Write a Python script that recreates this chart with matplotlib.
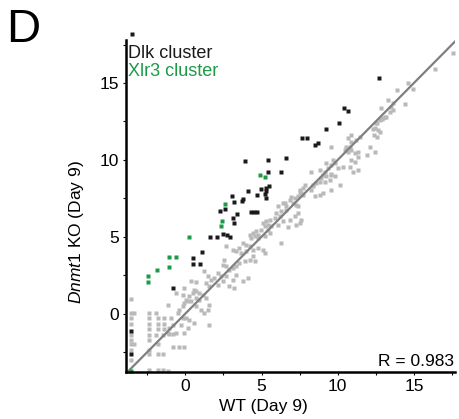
import numpy as np
import matplotlib
matplotlib.use("Agg")
import matplotlib.pyplot as plt
from matplotlib.ticker import MultipleLocator

plt.rcParams['font.family'] = ['Liberation Sans', 'DejaVu Sans']
plt.rcParams['mathtext.fontset'] = 'custom'
plt.rcParams['mathtext.rm'] = 'Liberation Sans'
plt.rcParams['mathtext.it'] = 'Liberation Sans:italic'

# all genes (WT, Dnmt1 KO)
gray_pts = [
    (-3.6, 0.95), (-3.6, 0.05), (-3.4, 0.05), (-3.6, -0.28), (-3.6, -0.65), (-3.6, -1.4), (-3.6, -1.69),
    (-3.6, -2.01), (-3.4, -2.01), (-3.6, -2.34), (-3.6, -3.0),
    (-2.41, 0.05), (-2.41, -0.28), (-2.41, -0.65), (-2.41, -0.97), (-2.41, -1.4), (-2.41, -1.69),
    (-2.41, -2.34), (-2.41, -2.66),
    (-1.93, 0.05), (-1.82, -0.28), (-1.82, -0.65), (-1.82, -0.97), (-1.93, -1.4), (-1.49, -1.4),
    (-1.82, -2.01), (-1.82, -2.66), (-1.49, -2.66),
    (-2.37, -3.64), (-1.82, -3.64), (-1.49, -3.64), (-1.16, -3.75),
    (-1.16, 0.58), (-1.38, -0.28), (-1.38, -0.65), (-1.38, -0.97), (-1.16, -1.25), (-1.05, -1.36),
    (-0.83, -1.36), (-0.6, -1.25), (-1.05, -0.93), (-0.83, -0.71), (-0.94, -0.28),
    (-0.83, -2.16), (-0.39, -2.16), (-0.07, -2.16),
    (-0.18, -0.28), (0.04, -0.28), (0.26, -0.39), (0.59, -0.61), (-0.29, -0.71), (0.15, -0.93), (-0.07, -1.25),
    (1.58, -0.71),
    (0.48, 1.35), (0.7, 1.45), (0.26, 1.12), (-0.07, 0.69), (0.15, 0.8), (-0.18, 0.48), (-0.4, 0.26),
    (-0.51, 0.05), (-0.6, 1.34), (-0.18, 1.23), (0.04, 0.91), (0.37, 0.8), (0.7, 1.02), (0.92, 0.91),
    (1.14, 1.23), (1.36, 1.02), (1.58, 0.58), (1.47, 0.26), (0.7, 0.48), (1.03, 0.26), (1.25, 0.05),
    (-0.07, 1.67), (0.37, 2.14), (0.7, 2.06), (0.59, 1.56), (0.92, 1.34),
    (1.36, 2.0), (1.25, 2.75), (1.58, 1.78), (2.13, 1.89), (2.46, 2.1), (2.89, 1.78), (3.22, 1.67),
    (3.11, 2.21), (3.33, 2.53), (3.77, 2.1), (4.1, 2.32), (2.67, 3.07), (2.67, 2.43), (2.35, 2.43),
    (2.13, 2.64), (1.91, 2.32), (1.69, 2.21), (1.47, 2.43),
    (2.56, 3.5), (2.46, 3.18), (2.89, 2.86), (3.11, 2.97), (3.33, 3.07), (3.55, 3.29), (3.88, 3.4),
    (4.21, 3.5), (4.54, 3.4), (4.43, 3.72), (5.2, 3.94), (5.09, 4.16), (4.76, 4.27), (4.43, 4.16),
    (3.99, 4.05), (3.66, 3.94), (3.33, 4.05), (3.11, 4.16), (3.55, 4.27), (4.21, 4.37), (3.99, 4.48),
    (3.77, 4.59), (2.67, 4.37),
    (4.32, 4.91), (4.76, 4.91), (4.54, 5.02), (5.2, 5.02), (4.21, 5.13), (4.76, 5.13), (4.43, 5.24),
    (4.65, 5.35), (5.53, 5.24), (4.98, 5.45), (5.42, 5.45), (5.2, 5.67), (5.64, 5.67), (5.09, 5.89),
    (5.42, 5.78), (5.31, 6.0), (6.07, 5.78), (5.53, 6.1), (5.85, 6.21), (6.4, 6.0), (6.18, 6.32),
    (6.84, 6.1), (5.96, 6.54), (6.29, 6.65), (6.62, 6.75), (7.17, 6.32), (7.39, 6.54), (7.5, 5.89),
    (7.28, 5.78), (6.29, 4.59), (6.07, 6.97), (6.4, 7.19), (7.61, 6.11), (6.73, 5.63),
    (6.51, 7.19), (6.62, 6.97), (6.84, 7.4), (6.95, 7.57), (7.06, 7.19), (7.17, 7.51), (7.28, 7.08),
    (7.39, 6.97), (7.39, 7.62), (7.5, 7.94), (7.72, 7.73),
    (7.5, 8.05), (7.61, 7.84), (7.72, 8.16), (7.83, 8.38), (8.27, 8.05), (8.49, 7.62), (8.82, 7.73),
    (9.03, 7.84), (9.58, 8.05), (10.13, 8.38), (8.38, 8.38), (8.6, 8.48), (8.82, 8.59), (9.14, 8.59),
    (9.47, 8.7), (8.92, 8.81), (9.25, 8.92), (9.8, 8.92), (9.03, 9.03), (9.58, 9.03), (8.27, 9.24),
    (9.14, 9.24), (9.36, 9.46), (8.82, 9.35), (9.25, 9.78), (9.58, 9.67), (9.8, 9.78), (9.69, 10.0),
    (10.02, 9.46), (10.35, 9.56), (10.79, 9.56), (11.12, 9.89), (10.9, 10.0), (11.34, 10.22),
    (11.12, 10.43), (11.34, 10.54), (10.9, 10.65), (10.68, 10.54), (10.46, 10.65), (10.57, 10.87),
    (10.79, 10.87), (10.9, 11.19), (10.68, 11.41), (10.9, 11.62), (11.23, 11.3), (11.45, 11.52),
    (9.58, 10.87), (11.34, 9.33), (11.0, 9.22), (9.58, 9.11), (8.38, 8.27),
    (12.43, 12.05), (12.65, 11.95), (12.55, 12.38), (12.76, 12.6), (12.98, 12.71), (13.2, 12.77),
    (12.37, 11.64), (12.76, 11.81), (12.55, 11.49), (12.11, 10.84), (11.89, 10.3), (12.43, 10.51),
    (17.6, 16.93), (16.38, 15.89), (14.63, 14.97), (13.86, 14.55), (14.96, 14.6), (13.31, 13.9),
    (14.41, 13.64), (13.64, 13.68), (13.53, 13.46), (13.64, 13.24), (12.81, 13.36), (13.42, 13.14),
    (12.94, 12.64), (13.09, 12.81), (12.5, 12.42), (12.32, 12.0),
]

# Dlk cluster genes
dlk_pts = [
    (12.7, 15.3), (10.4, 13.4), (10.7, 13.2), (10.1, 12.4), (9.2, 12.0), (7.65, 11.4), (7.96, 11.4),
    (8.5, 11.0), (8.7, 11.1), (3.9, 9.9), (5.4, 10.0), (6.6, 10.1), (5.4, 9.2), (6.3, 9.2), (5.5, 8.3),
    (4.95, 8.1), (5.3, 8.2), (5.3, 8.0), (4.1, 8.0), (4.7, 7.7), (5.2, 7.8), (5.3, 7.5), (3.8, 7.45),
    (3.7, 7.3), (3.05, 7.66), (3.2, 7.25), (2.6, 6.8), (2.3, 6.7), (3.4, 6.5), (3.1, 6.2), (4.3, 6.6),
    (4.5, 6.6), (4.7, 6.6), (3.2, 5.9), (1.6, 5.0), (2.1, 5.0), (2.5, 5.15), (2.7, 5.1), (2.9, 5.0),
    (1.07, 4.0), (0.5, 3.6), (0.5, 3.2), (0.97, 3.25), (-0.83, 1.67), (-3.6, -1.1), (-3.6, -2.66),
    (-3.5, 18.2),
]

# Xlr3 cluster genes
xlr3_pts = [
    (4.87, 9.0), (5.2, 8.9), (2.6, 7.1), (2.4, 6.0), (2.35, 5.7), (0.26, 5.0), (-1.1, 3.7), (-0.6, 3.7),
    (-1.1, 3.0), (-1.84, 2.86), (-2.43, 2.47), (-2.43, 2.03), (-3.6, -3.75),
]

r_value = 0.983
xmin, xmax = -3.9, 17.7
ymin, ymax = -3.8, 17.8

green = '#1c9a48'

fig = plt.figure(figsize=(4.59, 4.19), dpi=100)
ax = fig.add_axes([126 / 459, 1 - 372 / 419, 329 / 459, 332 / 419])

gx, gy = zip(*gray_pts)
ax.plot(gx, gy, 's', ms=2.3, color='#b9b9b9', mec='none', clip_on=False)
ax.plot([xmin, xmax], [xmin, xmax], color='#7f7f7f', lw=1.6)
dx, dy = zip(*dlk_pts)
ax.plot(dx, dy, 's', ms=2.6, color='#1a1a1a', mec='none', clip_on=False)
xx, xy = zip(*xlr3_pts)
ax.plot(xx, xy, 's', ms=2.6, color=green, mec='none', clip_on=False)

ax.set_xlim(xmin, xmax)
ax.set_ylim(ymin, ymax)
for s in ['top', 'right']:
    ax.spines[s].set_visible(False)
for s in ['left', 'bottom']:
    ax.spines[s].set_linewidth(1.8)
ax.xaxis.set_major_locator(MultipleLocator(5))
ax.yaxis.set_major_locator(MultipleLocator(5))
ax.xaxis.set_minor_locator(MultipleLocator(2.5))
ax.yaxis.set_minor_locator(MultipleLocator(2.5))
ax.tick_params(which='both', direction='out', length=2, width=0.8, labelsize=12.5, pad=3)

fig.text(128 / 459, 1 - 53 / 419, 'Dlk cluster', fontsize=13, color='#1a1a1a', va='center', ha='left')
fig.text(128 / 459, 1 - 71 / 419, 'Xlr3 cluster', fontsize=13, color=green, va='center', ha='left')
ax.text(0.998, 0.008, 'R = %.3f' % r_value, transform=ax.transAxes, ha='right', va='bottom', fontsize=12.5)

fig.text(263 / 459, 1 - 406 / 419, 'WT (Day 9)', fontsize=12.5, ha='center', va='center')
fig.text(76 / 459, 1 - 232 / 419, r'$\it{Dnmt1}$ KO (Day 9)', fontsize=12.5, ha='center', va='center',
         rotation=90)
fig.text(6 / 459, 1 - 30 / 419, 'D', fontsize=34, ha='left', va='center')

fig.savefig('out.png', dpi=100)
